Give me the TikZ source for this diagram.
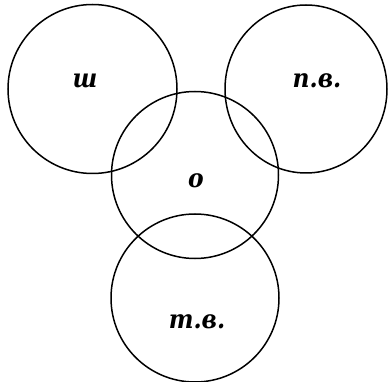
\documentclass[tikz,border=0pt]{standalone}
\usepackage{fontspec}
\setmainfont{DejaVu Serif Condensed}
\begin{document}
\begin{tikzpicture}[x=1pt,y=-1pt,
  ring/.style={draw=black,line width=1.5pt,fill=none},
  lbl/.style={font=\fontsize{26}{26}\selectfont\bfseries\itshape,inner sep=0pt}]
\useasboundingbox (0,0) rectangle (388,382);
\draw[ring] (92.5,89) circle[radius=84.5];
\draw[ring] (306,89) ellipse[x radius=81,y radius=84];
\draw[ring] (195,175) circle[radius=83.5];
\draw[ring] (195,298) circle[radius=84];
\node[lbl] (sh) at (85,80.5) {ш};
\node[lbl] (pv) at (317,80.5) {п.в.};
\node[lbl] (o) at (196,180.5) {о};
\node[lbl] (tv) at (197,321.5) {т.в.};
\end{tikzpicture}
\end{document}
